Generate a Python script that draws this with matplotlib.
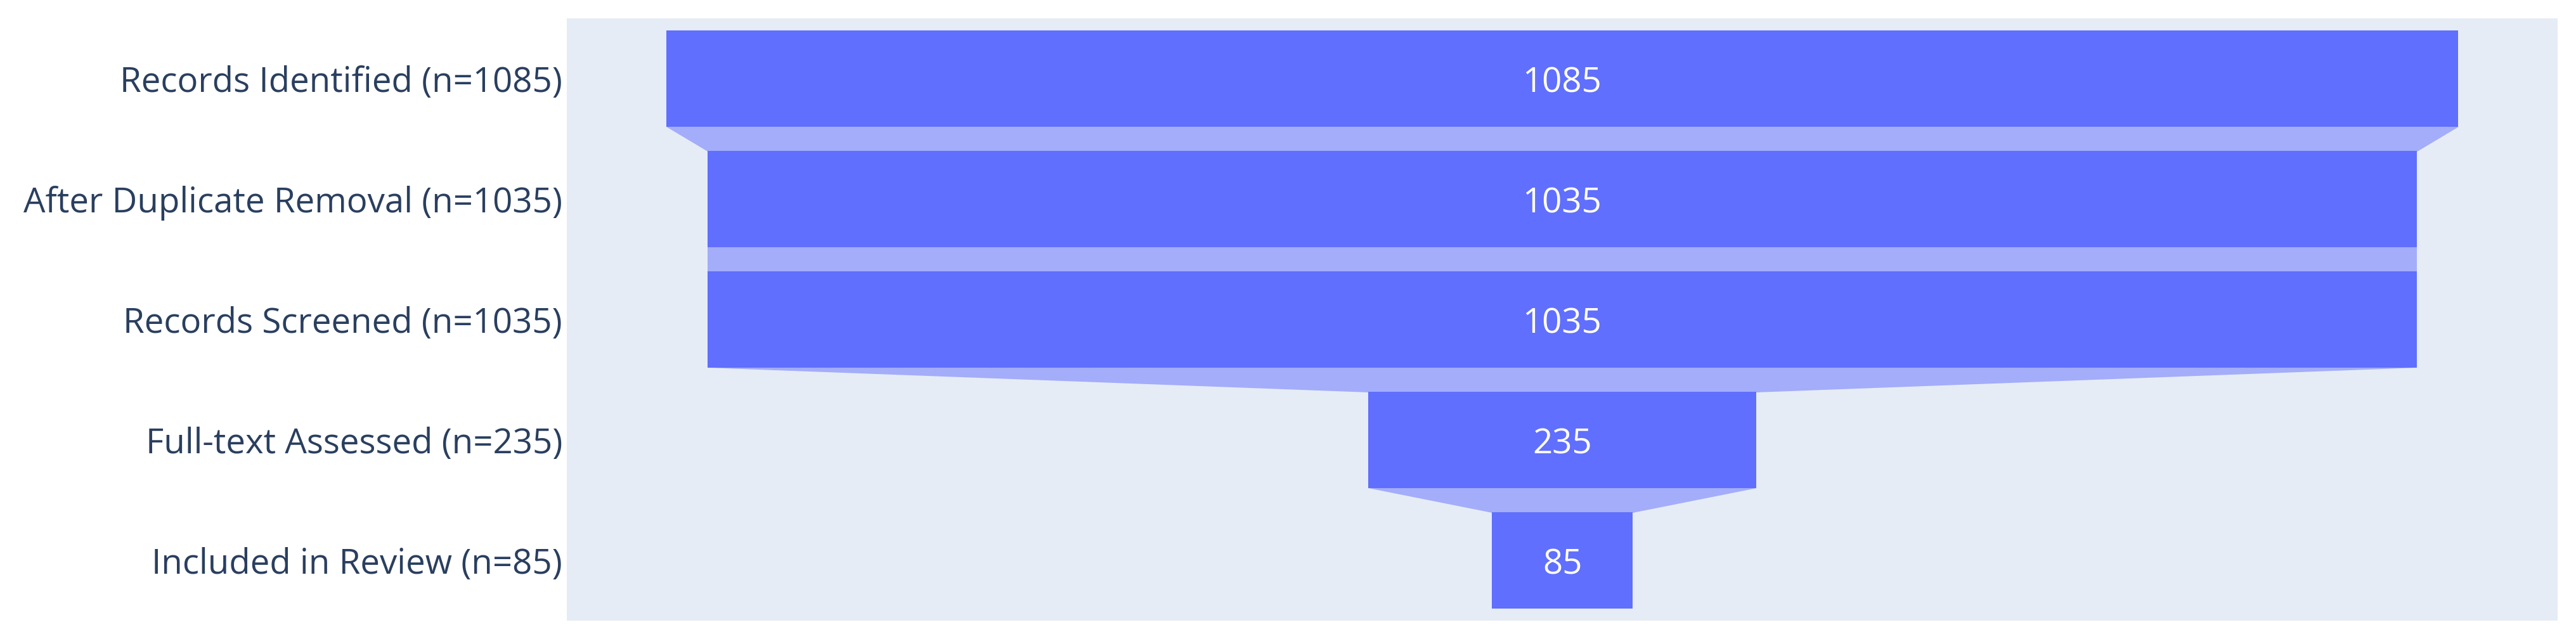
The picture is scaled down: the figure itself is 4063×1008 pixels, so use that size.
import matplotlib
matplotlib.use("Agg")
import matplotlib.pyplot as plt
import numpy as np

stages = ["Records Identified (n=1085)", "After Duplicate Removal (n=1035)",
          "Records Screened (n=1035)", "Full-text Assessed (n=235)",
          "Included in Review (n=85)"]
values = [1085, 1035, 1035, 235, 85]

plt.rcParams['font.family'] = ['Open Sans', 'DejaVu Sans']

W, H = 4063, 1008
fig = plt.figure(figsize=(W / 100, H / 100), dpi=100)
fig.patch.set_facecolor("white")
ax = fig.add_axes([894 / W, 1 - 979 / H, (4034 - 894) / W, (979 - 29) / H])
ax.set_facecolor("#e5ecf6")

bar_color = "#606ffd"
conn_color = "#a3adfa"
bh = 0.795
y = np.arange(len(values))
v = np.array(values, dtype=float)

ax.barh(y, v, left=-v / 2, height=bh, color=bar_color, zorder=3)
for i in range(len(values) - 1):
    yy = [y[i] + bh / 2, y[i + 1] - bh / 2]
    ax.fill_betweenx(yy, [-v[i] / 2, -v[i + 1] / 2], [v[i] / 2, v[i + 1] / 2],
                     color=conn_color, linewidth=0, zorder=2)
for i, val in enumerate(values):
    ax.text(0, y[i], f"{val}", ha="center", va="center_baseline", color="white",
            fontsize=39.3, zorder=4)

ax.set_xlim(-602.6, 602.6)
ax.set_ylim(len(values) - 0.5, -0.5)
ax.set_yticks(y)
ax.set_yticklabels(stages, fontsize=39.3, color="#2a3f5f")
for lab in ax.get_yticklabels():
    lab.set_verticalalignment("center_baseline")
ax.tick_params(axis="y", length=0, pad=5)
ax.set_xticks([])
for s in ax.spines.values():
    s.set_visible(False)

fig.savefig("out.png", dpi=100, facecolor="white")
